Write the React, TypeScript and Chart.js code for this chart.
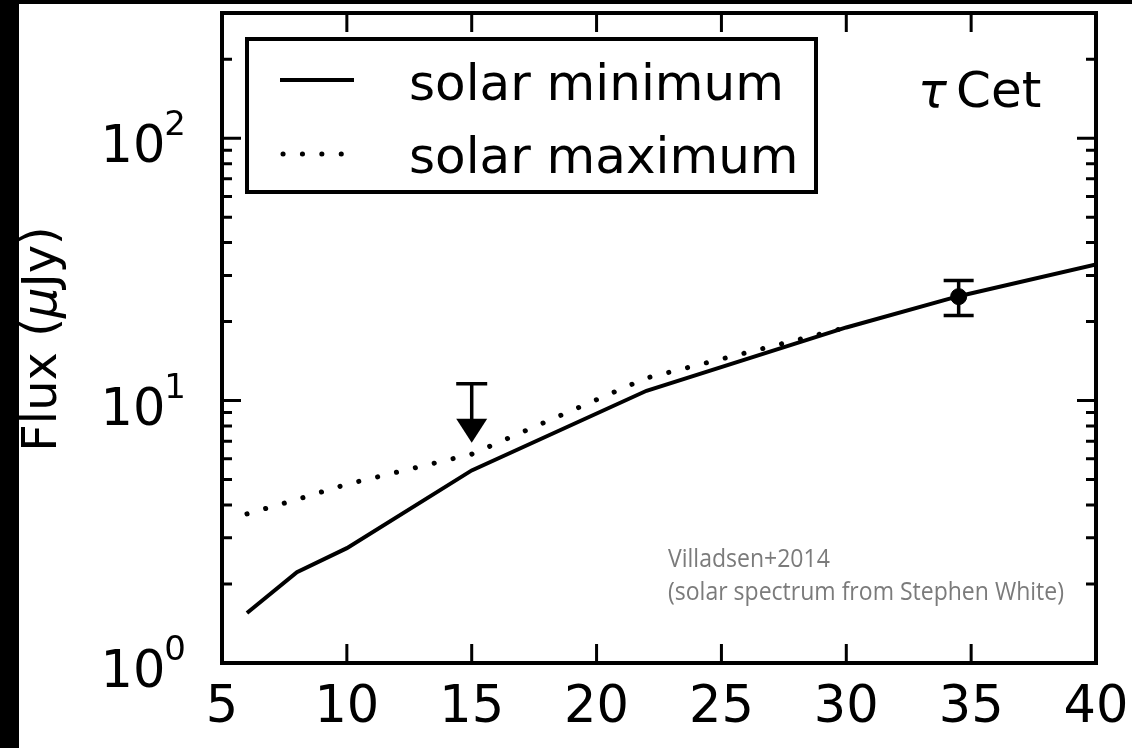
import React, { useEffect, useRef } from 'react';
import { Chart, registerables } from 'chart.js';

Chart.register(...registerables);

// Model spectra (frequency in GHz, flux density in µJy)
const freqSolarMin = [6, 8, 10, 15, 22, 30, 34.5, 40];
const fluxSolarMin = [1.55, 2.22, 2.74, 5.42, 10.9, 19.0, 25.0, 33.0];
const freqSolarMax = [6, 8, 10, 15, 22, 30];
const fluxSolarMax = [3.7, 4.2, 4.8, 6.25, 12.2, 19.0];

// Observations: one detection with error bar and one upper limit
const detFreq = [34.5];
const detFlux = [24.9];
const detErr = [3.8];
const limitFreq = [15];
const limitFlux = [11.6];

// Axes
const xTicks = [5, 10, 15, 20, 25, 30, 35, 40];
const yTickExponents = [0, 1, 2];
const xRange = [5, 40];
const yRange = [1, 300];

// Text
const seriesLabels = ['solar minimum', 'solar maximum'];
const starSymbol = 'τ';
const starName = 'Cet';
const yTitleParts = ['Flux (', 'μ', 'Jy)'];
const creditLines = ['Villadsen+2014', '(solar spectrum from Stephen White)'];

const MPL = '"DejaVu Sans", sans-serif';
const DOT_DASH = [0.1, 19.3];

const decorations = {
  id: 'decorations',
  afterDraw(chart: any) {
    const { ctx, chartArea: a, scales } = chart;
    const xs = scales.x;
    const ys = scales.y;
    ctx.save();
    ctx.strokeStyle = '#000';
    ctx.fillStyle = '#000';

    // error bar of the detection
    ctx.lineWidth = 3.5;
    detFreq.forEach((f, i) => {
      const px = xs.getPixelForValue(f);
      const hi = ys.getPixelForValue(detFlux[i] + detErr[i]);
      const lo = ys.getPixelForValue(detFlux[i] - detErr[i]);
      ctx.beginPath();
      ctx.moveTo(px, hi); ctx.lineTo(px, lo);
      ctx.moveTo(px - 15, hi); ctx.lineTo(px + 15, hi);
      ctx.moveTo(px - 15, lo); ctx.lineTo(px + 15, lo);
      ctx.stroke();
    });

    // upper limit: cap with downward arrow
    limitFreq.forEach((f, i) => {
      const px = xs.getPixelForValue(f);
      const py = ys.getPixelForValue(limitFlux[i]);
      ctx.beginPath();
      ctx.moveTo(px - 15.5, py); ctx.lineTo(px + 15.5, py);
      ctx.moveTo(px, py); ctx.lineTo(px, py + 36);
      ctx.stroke();
      ctx.beginPath();
      ctx.moveTo(px - 15.5, py + 35);
      ctx.lineTo(px + 15.5, py + 35);
      ctx.lineTo(px, py + 59);
      ctx.closePath();
      ctx.fill();
    });

    // frame
    ctx.lineWidth = 4;
    ctx.strokeRect(a.left, a.top, a.right - a.left, a.bottom - a.top);

    // x ticks (bottom and mirrored top)
    ctx.lineWidth = 3;
    ctx.beginPath();
    xTicks.forEach((v) => {
      const px = xs.getPixelForValue(v);
      ctx.moveTo(px, a.bottom); ctx.lineTo(px, a.bottom - 19);
      ctx.moveTo(px, a.top); ctx.lineTo(px, a.top + 19);
    });
    ctx.stroke();

    // y ticks, major and minor (left and mirrored right)
    ctx.beginPath();
    yTickExponents.forEach((e) => {
      const base = Math.pow(10, e);
      for (let m = 1; m <= 9; m++) {
        const v = base * m;
        if (v < yRange[0] || v >= yRange[1]) continue;
        const py = ys.getPixelForValue(v);
        const len = m === 1 ? 19 : 10;
        ctx.moveTo(a.left, py); ctx.lineTo(a.left + len, py);
        ctx.moveTo(a.right, py); ctx.lineTo(a.right - len, py);
      }
    });
    ctx.stroke();

    // x tick labels
    ctx.font = `51px ${MPL}`;
    ctx.textAlign = 'center';
    ctx.textBaseline = 'alphabetic';
    xTicks.forEach((v) => {
      ctx.fillText(String(v), xs.getPixelForValue(v), a.bottom + 59);
    });

    // y tick labels: 10 with superscript exponent
    yTickExponents.forEach((e) => {
      const py = ys.getPixelForValue(Math.pow(10, e));
      ctx.textAlign = 'right';
      ctx.font = `34px ${MPL}`;
      const supW = ctx.measureText(String(e)).width;
      ctx.fillText(String(e), 186, py - 3);
      ctx.font = `51px ${MPL}`;
      ctx.fillText('10', 186 - supW + 1, py + 24);
    });

    // y axis title
    ctx.save();
    ctx.translate(56, 339);
    ctx.rotate(-Math.PI / 2);
    ctx.textAlign = 'left';
    const fonts = [`48px ${MPL}`, `italic 48px ${MPL}`, `48px ${MPL}`];
    let total = 0;
    yTitleParts.forEach((t, i) => { ctx.font = fonts[i]; total += ctx.measureText(t).width; });
    let cx = -total / 2;
    yTitleParts.forEach((t, i) => {
      ctx.font = fonts[i];
      ctx.fillText(t, cx, 0);
      cx += ctx.measureText(t).width;
    });
    ctx.restore();

    // legend
    ctx.fillStyle = '#fff';
    ctx.fillRect(247, 39, 569, 153);
    ctx.lineWidth = 4;
    ctx.strokeStyle = '#000';
    ctx.strokeRect(247, 39, 569, 153);
    const ds = chart.data.datasets;
    ctx.beginPath();
    ctx.moveTo(280, 80); ctx.lineTo(354, 80);
    ctx.lineWidth = 4;
    ctx.stroke();
    ctx.save();
    ctx.setLineDash(DOT_DASH);
    ctx.lineCap = 'round';
    ctx.lineWidth = 5;
    ctx.beginPath();
    ctx.moveTo(283, 154); ctx.lineTo(356, 154);
    ctx.stroke();
    ctx.restore();
    ctx.fillStyle = '#000';
    ctx.textAlign = 'left';
    ctx.font = `50px ${MPL}`;
    ctx.fillText(ds[0].label, 409, 100);
    ctx.fillText(ds[1].label, 409, 173);

    // star name
    ctx.font = `italic 48px ${MPL}`;
    ctx.fillText(starSymbol, 918, 107);
    ctx.font = `50px ${MPL}`;
    ctx.fillText(starName, 956, 107);

    // credit, narrowed horizontally to a fixed line width
    ctx.fillStyle = '#7b7b7b';
    ctx.font = '26px "Open Sans", sans-serif';
    const creditLeft = 668;
    const creditWidth = 396;
    const sx = creditWidth / ctx.measureText(creditLines[1]).width;
    ctx.save();
    ctx.translate(creditLeft, 0);
    ctx.scale(sx, 1);
    ctx.fillText(creditLines[0], 0, 567);
    ctx.fillText(creditLines[1], 0, 600);
    ctx.restore();

    ctx.restore();
  },
};

export default function App() {
  const ref = useRef<HTMLCanvasElement | null>(null);

  useEffect(() => {
    if (!ref.current) return;
    const chart = new Chart(ref.current, {
      type: 'line',
      data: {
        datasets: [
          {
            label: seriesLabels[0],
            data: freqSolarMin.map((x, i) => ({ x, y: fluxSolarMin[i] })),
            borderColor: '#000',
            borderWidth: 4,
            pointRadius: 0,
            tension: 0,
            order: 1,
          },
          {
            label: seriesLabels[1],
            data: freqSolarMax.map((x, i) => ({ x, y: fluxSolarMax[i] })),
            borderColor: '#000',
            borderWidth: 5,
            borderDash: DOT_DASH,
            borderCapStyle: 'round',
            pointRadius: 0,
            tension: 0,
            order: 2,
          },
          {
            type: 'scatter',
            label: 'detection',
            data: detFreq.map((x, i) => ({ x, y: detFlux[i] })),
            backgroundColor: '#000',
            borderColor: '#000',
            pointRadius: 8,
            showLine: false,
            order: 0,
          },
        ] as any,
      },
      options: {
        responsive: false,
        animation: false,
        devicePixelRatio: 1,
        events: [],
        layout: { padding: { left: 222, top: 13, right: 36, bottom: 85 } },
        scales: {
          x: { type: 'linear', min: xRange[0], max: xRange[1], display: false },
          y: { type: 'logarithmic', min: yRange[0], max: yRange[1], display: false },
        },
        plugins: { legend: { display: false }, tooltip: { enabled: false } },
      },
      plugins: [decorations],
    });
    return () => chart.destroy();
  }, []);

  return (
    <div style={{ position: 'fixed', left: 0, top: 0, width: 1132, height: 748, background: '#fff', overflow: 'hidden' }}>
      <canvas ref={ref} width={1132} height={748} style={{ position: 'absolute', left: 0, top: 0 }} />
      <div style={{ position: 'absolute', left: 0, top: 0, width: 19, height: 748, background: '#000' }} />
      <div style={{ position: 'absolute', left: 0, top: 0, width: 1132, height: 4, background: '#000' }} />
    </div>
  );
}
